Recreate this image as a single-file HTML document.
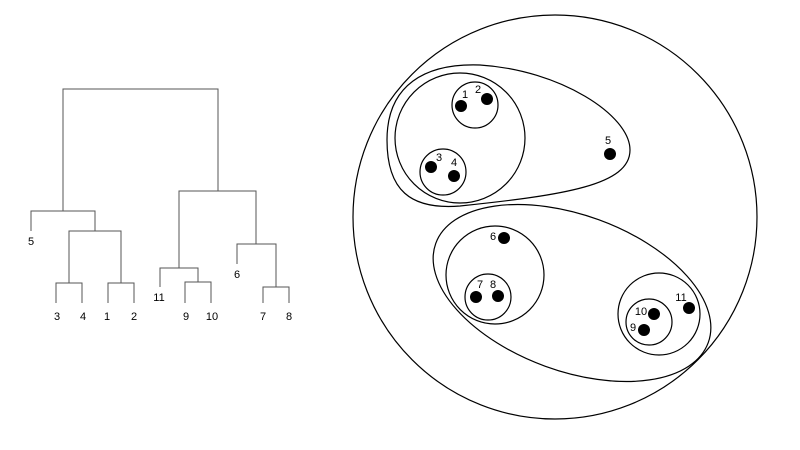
<!DOCTYPE html>
<html><head><style>body{margin:0;background:#fff}svg{display:block}text{font-family:"Liberation Sans",sans-serif;font-size:11px;fill:#000}</style></head>
<body>
<svg width="800" height="450" viewBox="0 0 800 450">
<g stroke="#555" stroke-width="1" fill="none">
<path d="M63,211V89H218V191"/>
<path d="M31,231V211H95V231"/>
<path d="M69,283V231H121V283"/>
<path d="M56,303V283H82V303M108,303V283H134V303"/>
<path d="M179,268V191H256V244"/>
<path d="M160,287V268H198V282"/>
<path d="M185,303V282H211V303"/>
<path d="M237,264V244H276V287"/>
<path d="M263,303V287H289V303"/>
</g>
<g text-anchor="middle">
<text x="31" y="245">5</text>
<text x="57" y="320">3</text><text x="83" y="320">4</text><text x="107" y="320">1</text><text x="134" y="320">2</text>
<text x="159" y="301">11</text><text x="186" y="320">9</text><text x="212" y="320">10</text>
<text x="237" y="278">6</text><text x="263" y="320">7</text><text x="289" y="320">8</text>
</g>
<g stroke="#000" stroke-width="1.2" fill="none">
<circle cx="555" cy="217" r="202"/>
<path d="M387,140 C387,85 425,63 480,65 C560,70 630,115 630,150 C630,185 565,195 460,206 C410,210 387,190 387,140 Z"/>
<circle cx="460" cy="138" r="65"/>
<circle cx="475" cy="105" r="23"/>
<circle cx="443" cy="172" r="23"/>
<ellipse cx="572" cy="293" rx="145" ry="78" transform="rotate(20 572 293)"/>
<circle cx="495" cy="275" r="49"/>
<circle cx="488" cy="297" r="23"/>
<circle cx="659" cy="314" r="41"/>
<circle cx="649" cy="322" r="23"/>
</g>
<g fill="#000">
<circle cx="461" cy="106" r="6"/><circle cx="487" cy="99" r="6"/>
<circle cx="431" cy="167" r="6"/><circle cx="454" cy="176" r="6"/>
<circle cx="610" cy="154" r="6"/>
<circle cx="504" cy="238" r="6"/>
<circle cx="476" cy="297" r="6"/><circle cx="498" cy="296" r="6"/>
<circle cx="689" cy="308" r="6"/><circle cx="654" cy="314" r="6"/><circle cx="644" cy="330" r="6"/>
</g>
<g text-anchor="middle">
<text x="465" y="98">1</text><text x="478" y="93">2</text>
<text x="439" y="161">3</text><text x="454" y="166">4</text>
<text x="608" y="144">5</text>
<text x="493" y="240">6</text>
<text x="480" y="288">7</text><text x="493" y="288">8</text>
<text x="681" y="301">11</text><text x="641" y="315">10</text><text x="633" y="331">9</text>
</g>
</svg>
</body></html>
